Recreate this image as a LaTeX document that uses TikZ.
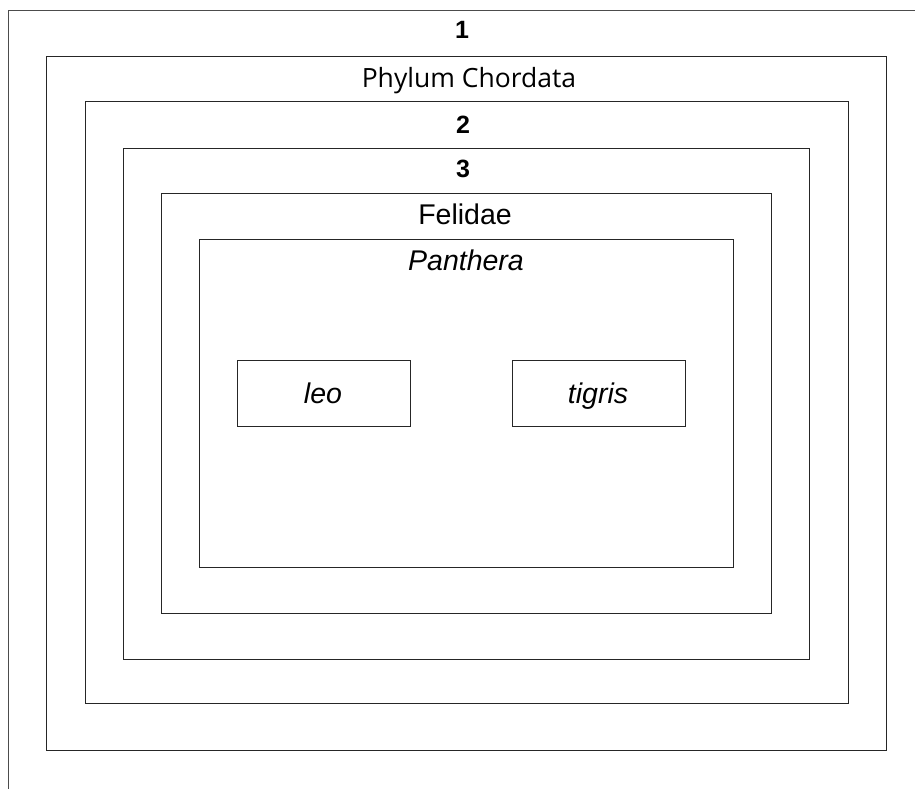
\documentclass[tikz,border=0pt]{standalone}
\usepackage{fontspec}
\setmainfont{Liberation Sans}
\newfontfamily\phylfont{Open Sans}
\begin{document}
\begin{tikzpicture}[x=1pt,y=-1pt,
  frame/.style={draw=black!85, line width=1pt, inner sep=0pt, outer sep=0pt, anchor=north west},
  lbl/.style={inner sep=0pt, anchor=base, font=\fontsize{28.5}{30}\selectfont},
  num/.style={inner sep=0pt, anchor=base, font=\fontsize{25}{27}\selectfont\bfseries}]
\useasboundingbox (0,0) rectangle (915,789);
\fill[white] (0,0) rectangle (915,789);
\coordinate (ol) at (8,789);
\coordinate (ot) at (915,11);
\draw[black!70, line width=1pt] (ol) |- (ot);
\node[frame, minimum width=840pt, minimum height=693pt] (kingdom) at (46,57) {};
\node[frame, minimum width=763pt, minimum height=601pt] (class) at (85,102) {};
\node[frame, minimum width=686pt, minimum height=511pt] (order) at (123,148) {};
\node[frame, minimum width=610pt, minimum height=420pt] (family) at (161,193) {};
\node[frame, minimum width=534pt, minimum height=328pt] (genus) at (199,239) {};
\node[frame, minimum width=173pt, minimum height=66pt] (leo) at (237,360) {};
\node[frame, minimum width=173pt, minimum height=66pt] (tigris) at (512,360) {};
\node[num] (l1) at (462,39) {1};
\node[inner sep=0pt, anchor=base, font=\phylfont\fontsize{26.5}{28}\selectfont] (lphyl) at (469,88) {Phylum Chordata};
\node[num] (l2) at (463,133) {2};
\node[num] (l3) at (463,177) {3};
\node[lbl] (lfel) at (465,224) {Felidae};
\node[lbl] (lpan) at (466,270) {\itshape Panthera};
\node[lbl] (lleo) at (323,403) {\itshape leo};
\node[lbl] (ltig) at (598,403) {\itshape tigris};
\end{tikzpicture}
\end{document}
